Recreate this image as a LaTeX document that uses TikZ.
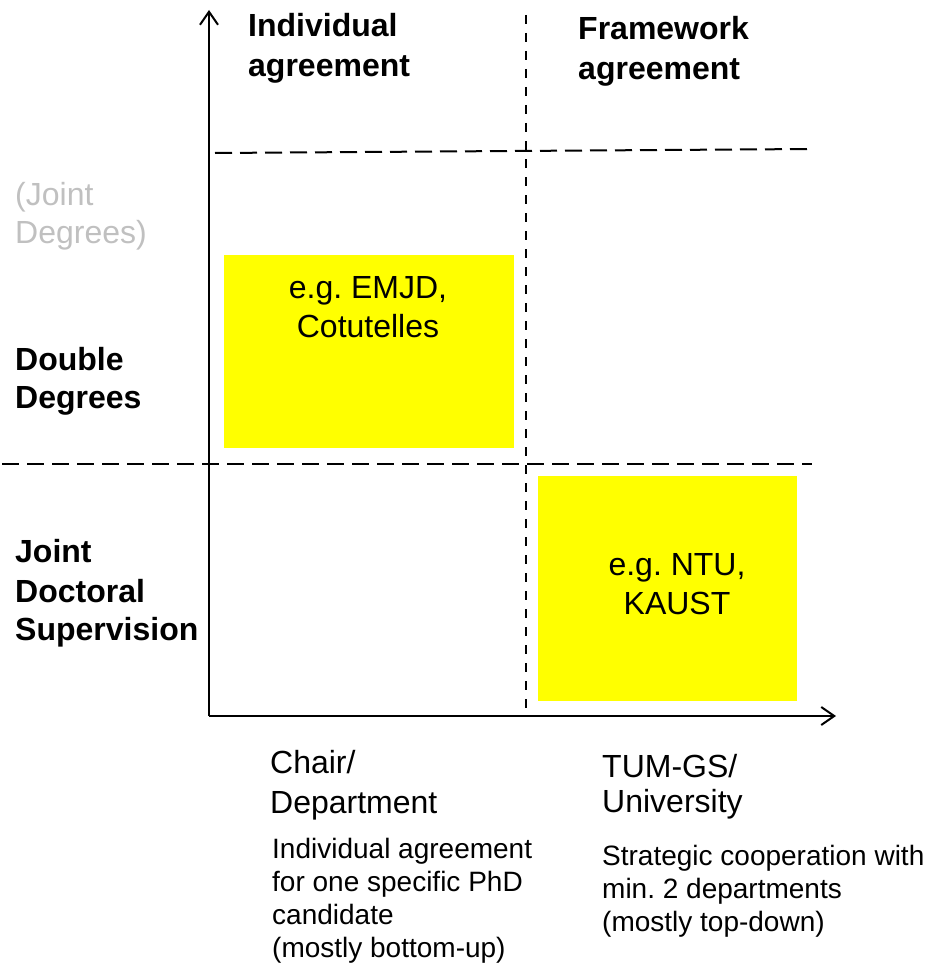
\documentclass[tikz,border=0pt]{standalone}
\usepackage{fontspec}
\setmainfont{Liberation Sans}
\usetikzlibrary{arrows.meta}
\frenchspacing
\definecolor{boxyellow}{RGB}{255,255,0}
\definecolor{lightgraytext}{RGB}{192,192,192}
\tikzset{
  big/.style={anchor=base west, inner sep=0pt, font=\fontsize{32}{40}\selectfont},
  bigb/.style={big, font=\fontsize{32}{40}\selectfont\bfseries},
  small/.style={anchor=base west, inner sep=0pt, font=\fontsize{28}{33}\selectfont},
  boxtext/.style={anchor=base, inner sep=0pt, font=\fontsize{32}{40}\selectfont},
  axisline/.style={line width=2pt, -{Straight Barb[length=13pt,width=18pt,line width=2pt]}},
  hdash/.style={line width=2pt, dash pattern=on 17pt off 8pt},
  vdash/.style={line width=2pt, dash pattern=on 9pt off 9pt},
  ybox/.style={fill=boxyellow, draw=none}
}
\begin{document}
\begin{tikzpicture}[x=1pt,y=-1pt]
\useasboundingbox (0,0) rectangle (937,963);
% yellow boxes
\fill[ybox] (224,255) rectangle (514,448);
\fill[ybox] (538,476) rectangle (797,701);
% coordinates
\coordinate (o) at (209,716);
\coordinate (ytop) at (209,10);
\coordinate (xend) at (836,716);
\coordinate (vt) at (526,15);
\coordinate (vb) at (526,716);
\coordinate (h1a) at (215,153);
\coordinate (h1b) at (812,149);
\coordinate (h2a) at (2,464);
\coordinate (h2b) at (812,464);
% dashed lines
\draw[vdash] (vt) -- (vb);
\draw[hdash] (h1a) -- (h1b);
\draw[hdash] (h2a) -- (h2b);
% axes
\draw[axisline] (o) -- (ytop);
\draw[axisline] (o) -- (xend);
% top labels
\node[bigb] (ia1) at (248,37) {Individual};
\node[bigb] (ia2) at (248,77) {agreement};
\node[bigb] (fa1) at (578,40) {Framework};
\node[bigb] (fa2) at (578,80) {agreement};
% left labels
\node[big, text=lightgraytext] (jd1) at (15,205) {(Joint};
\node[big, text=lightgraytext] (jd2) at (15,243) {Degrees)};
\node[bigb] (dd1) at (15,370) {Double};
\node[bigb] (dd2) at (15,408) {Degrees};
\node[bigb] (js1) at (15,562) {Joint};
\node[bigb] (js2) at (15,602) {Doctoral};
\node[bigb] (js3) at (15,640) {Supervision};
% box texts
\node[boxtext] (b1a) at (368,298) {e.g. EMJD,};
\node[boxtext] (b1b) at (368,337) {Cotutelles};
\node[boxtext] (b2a) at (677,575) {e.g. NTU,};
\node[boxtext] (b2b) at (677,614) {KAUST};
% bottom left
\node[big] (cd1) at (270,773) {Chair/};
\node[big] (cd2) at (270,813) {Department};
\node[small] (ls1) at (272,858) {Individual agreement};
\node[small] (ls2) at (272,891) {for one specific PhD};
\node[small] (ls3) at (272,924) {candidate};
\node[small] (ls4) at (272,957) {(mostly bottom-up)};
% bottom right
\node[big] (tu1) at (602,777) {TUM-GS/};
\node[big] (tu2) at (602,812) {University};
\node[small] (rs1) at (602,865) {Strategic cooperation with};
\node[small] (rs2) at (602,898) {min. 2 departments};
\node[small] (rs3) at (602,931) {(mostly top-down)};
\end{tikzpicture}
\end{document}
